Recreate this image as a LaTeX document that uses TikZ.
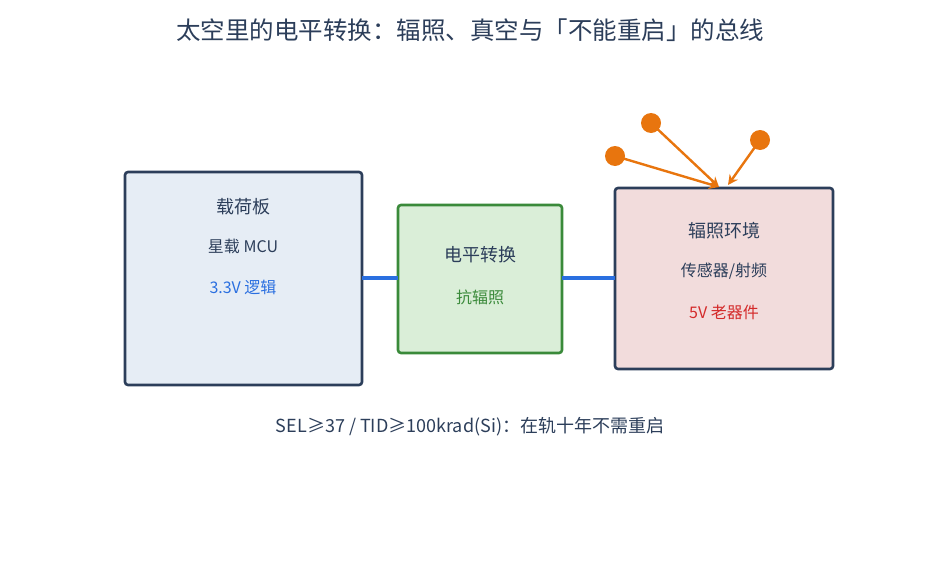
\documentclass[tikz,border=0pt]{standalone}
\usepackage{fontspec}
\setmainfont{Noto Sans CJK SC}
\usetikzlibrary{arrows.meta}
\definecolor{navy}{HTML}{2C3E5A}
\definecolor{linkblue}{HTML}{2A6FE0}
\definecolor{raysorange}{HTML}{E8750E}
\definecolor{lvlgreen}{HTML}{3A8A3A}
\definecolor{hotred}{HTML}{D42A2A}
\definecolor{mcufill}{HTML}{E6EDF5}
\definecolor{lvlfill}{HTML}{DAEED8}
\definecolor{envfill}{HTML}{F2DCDC}
\begin{document}
\begin{tikzpicture}[x=1pt, y=-1pt,
  block/.style={draw=navy, line width=2.6pt, rounded corners=3pt},
  label/.style={text=navy, font=\fontsize{18}{20}\selectfont},
  sub/.style={text=navy, font=\fontsize{16}{18}\selectfont},
  bus/.style={draw=linkblue, line width=4pt},
  ray/.style={draw=raysorange, line width=2.4pt, -{Stealth[length=10pt,width=10pt]}},
  dot/.style={circle, fill=raysorange, minimum size=20pt, inner sep=0pt}]
  \useasboundingbox (0,0) rectangle (941,567);
  \node[text=navy, font=\fontsize{24.5}{28}\selectfont] (title) at (470,30)
    {太空里的电平转换：辐照、真空与「不能重启」的总线};
  % payload board
  \filldraw[block, fill=mcufill] (125,172) rectangle (362,385);
  \coordinate (mcuR) at (362,278);
  \node[label] (mcu) at (243,207) {载荷板};
  \node[sub] (mcuA) at (243,246) {星载 MCU};
  \node[sub, text=linkblue] (mcuB) at (243,287) {3.3V 逻辑};
  % level shifter
  \filldraw[block, draw=lvlgreen, fill=lvlfill] (398,205) rectangle (562,353);
  \coordinate (lvlL) at (398,278);
  \coordinate (lvlR) at (562,278);
  \node[label] (lvl) at (480,255) {电平转换};
  \node[sub, text=lvlgreen] (lvlA) at (480,297) {抗辐照};
  % radiation side
  \filldraw[block, fill=envfill] (615,188) rectangle (833,369);
  \coordinate (envL) at (615,278);
  \node[label] (env) at (724,231) {辐照环境};
  \node[sub] (envA) at (724,271) {传感器/射频};
  \node[sub, text=hotred] (envB) at (724,312) {5V 老器件};
  \draw[bus] (mcuR) -- (lvlL);
  \draw[bus] (lvlR) -- (envL);
  % particles
  \node[dot] (p1) at (651,123) {};
  \node[dot] (p2) at (615,156) {};
  \node[dot] (p3) at (760,140) {};
  \coordinate (hitA) at (719,187);
  \coordinate (hitB) at (728,185);
  \draw[ray] (p1.center) -- (hitA);
  \draw[ray] (p2.center) -- (hitA);
  \draw[ray] (p3.center) -- (hitB);
  \node[sub, font=\fontsize{18}{20}\selectfont] (note) at (470,427)
    {SEL≥37 / TID≥100krad(Si)：在轨十年不需重启};
\end{tikzpicture}
\end{document}
